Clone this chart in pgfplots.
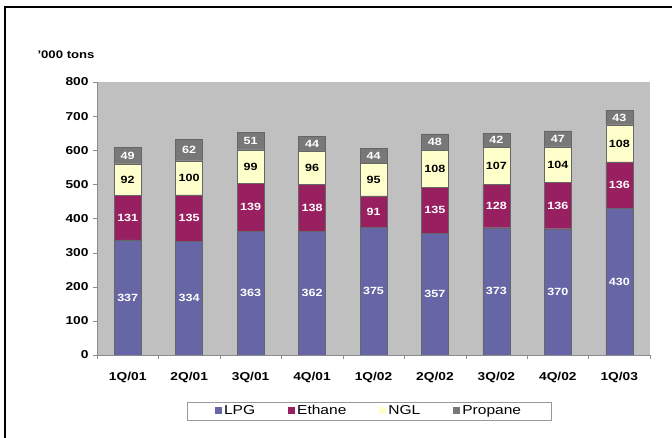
\documentclass[border=0pt]{standalone}
\usepackage{pgfplots}
\pgfplotsset{compat=1.18}
\usepackage{pgfplotstable}
\usepackage{fontspec}
\setmainfont{Liberation Sans}[FakeStretch=1.2]
\definecolor{lpg}{RGB}{102,102,166}
\definecolor{eth}{RGB}{153,32,96}
\definecolor{ngl}{RGB}{255,255,204}
\definecolor{pro}{RGB}{120,120,120}
\definecolor{bg}{RGB}{192,192,192}
\pgfplotstableread{
x lpg eth ngl pro
0 337 131 92 49
1 334 135 100 62
2 363 139 99 51
3 362 138 96 44
4 375 91 95 44
5 357 135 108 48
6 373 128 107 42
7 370 136 104 47
8 430 136 108 43
}\data
\begin{document}
\begin{tikzpicture}[x=1bp,y=1bp]
\useasboundingbox (0,0) rectangle (672,438);
\begin{scope}
\clip (0,0) rectangle (672,438);
\draw[line width=1.5bp] (5,-10) -- (5,431) -- (690,431);
\end{scope}
\node[anchor=west,font=\bfseries\fontsize{11}{12}\selectfont] at (34,383) {'000 tons};
\begin{axis}[
  at={(97bp,83bp)}, anchor=south west,
  scale only axis, width=553bp, height=273bp,
  ybar stacked, bar width=27bp,
  xmin=-0.5, xmax=8.5, ymin=0, ymax=800,
  ytick={0,100,...,800},
  xtick={0,...,8},
  xticklabels={1Q/01,2Q/01,3Q/01,4Q/01,1Q/02,2Q/02,3Q/02,4Q/02,1Q/03},
  minor xtick={-0.5,0.5,...,8.5},
  axis lines*=left,
  axis line style={draw=black!45},
  tick style={draw=black!45},
  tick align=outside,
  major tick length=4bp, minor tick length=4bp,
  major x tick style={draw=none},
  ticklabel style={font=\bfseries\fontsize{11.5}{13}\selectfont},
  /pgf/number format/assume math mode=true,
  yticklabel style={xshift=-1bp},
  xticklabel style={yshift=-10bp},
  axis background/.style={fill=bg},
  nodes near coords,
  point meta=rawy,
  nodes near coords style={anchor=center, font=\bfseries\fontsize{10.5}{12}\selectfont},
  every axis plot/.append style={draw=black!60, line width=0.4bp},
  legend columns=4,
  legend style={at={(0.492,-0.205)}, anchor=center, draw=black!40, font=\fontsize{13}{14}\selectfont, /tikz/every even column/.append style={column sep=31bp}, inner ysep=1.5bp, inner xsep=28bp},
  legend image code/.code={\draw[#1, draw=none] (0bp,-3.5bp) rectangle (7bp,4bp);},
]
\addplot[fill=lpg, nodes near coords style={text=white}] table[x=x,y=lpg] {\data};
\addplot[fill=eth, nodes near coords style={text=white}] table[x=x,y=eth] {\data};
\addplot[fill=ngl, nodes near coords style={text=black}] table[x=x,y=ngl] {\data};
\addplot[fill=pro, nodes near coords style={text=white}] table[x=x,y=pro] {\data};
\legend{LPG,Ethane,NGL,Propane}
\end{axis}
\end{tikzpicture}
\end{document}
